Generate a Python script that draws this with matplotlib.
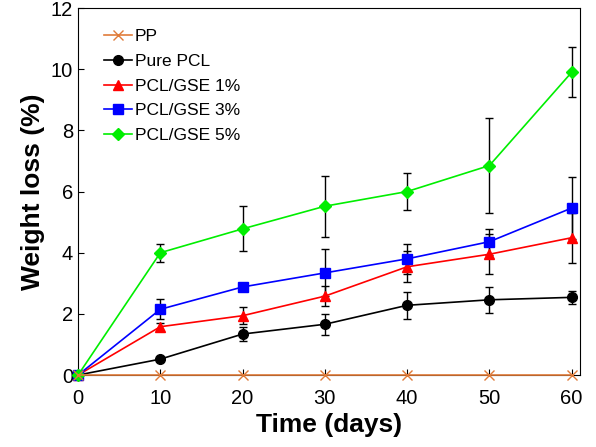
import matplotlib
matplotlib.use("Agg")
import matplotlib.pyplot as plt
from matplotlib.lines import Line2D

plt.rcParams['font.family'] = ['Liberation Sans', 'DejaVu Sans']

days = [0, 10, 20, 30, 40, 50, 60]

pp = [0, 0, 0, 0, 0, 0, 0]
pure_pcl = [0, 0.52, 1.34, 1.66, 2.28, 2.46, 2.54]
pure_pcl_err = [0, 0.05, 0.22, 0.35, 0.45, 0.42, 0.22]
gse1 = [0, 1.58, 1.94, 2.58, 3.54, 3.95, 4.49]
gse1_err = [0, 0.13, 0.27, 0.33, 0.5, 0.65, 0.82]
gse3 = [0, 2.15, 2.88, 3.34, 3.80, 4.36, 5.46]
gse3_err = [0, 0.32, 0.05, 0.77, 0.5, 0.43, 1.0]
gse5 = [0, 4.0, 4.78, 5.52, 6.0, 6.85, 9.9]
gse5_err = [0, 0.3, 0.74, 1.0, 0.6, 1.55, 0.82]

fig = plt.figure(figsize=(5.96, 4.47), dpi=100)
ax = fig.add_axes([0.131, 0.161, 0.842, 0.821])

series = [
    ('Pure PCL', pure_pcl, pure_pcl_err, 'black', 'o', 7),
    ('PCL/GSE 1%', gse1, gse1_err, '#FF0000', '^', 7),
    ('PCL/GSE 3%', gse3, gse3_err, '#0000FF', 's', 6.5),
    ('PCL/GSE 5%', gse5, gse5_err, '#00EE00', 'D', 6.5),
]

handles = []
ax.plot(days, pp, color='#E07B39', marker='x', ms=7, lw=1.2, clip_on=False, zorder=5)
handles.append(Line2D([], [], color='#E07B39', marker='x', ms=7, lw=1.2, label='PP'))
for name, vals, err, col, mk, ms in series:
    ax.errorbar(days, vals, yerr=err, fmt='none', ecolor='black', elinewidth=1,
                capsize=3, capthick=1, zorder=3)
    ax.plot(days, vals, color=col, marker=mk, ms=ms, lw=1.2, clip_on=False, zorder=4)
    handles.append(Line2D([], [], color=col, marker=mk, ms=ms, lw=1.2, label=name))

ax.set_xlim(0, 61)
ax.set_ylim(0, 12)
ax.set_xticks(days)
ax.set_yticks([0, 2, 4, 6, 8, 10, 12])
ax.tick_params(direction='in', labelsize=14.5, length=4)
ax.tick_params(axis='x', pad=10)
ax.set_xlabel('Time (days)', fontsize=19, fontweight='bold', labelpad=4)
ax.set_ylabel('Weight loss (%)', fontsize=19, fontweight='bold')

ax.legend(handles=handles, loc='upper left', frameon=False, fontsize=12.5,
          handlelength=1.6, handletextpad=0.2, labelspacing=0.55,
          bbox_to_anchor=(0.02, 0.985))

fig.savefig('out.png', dpi=100)
